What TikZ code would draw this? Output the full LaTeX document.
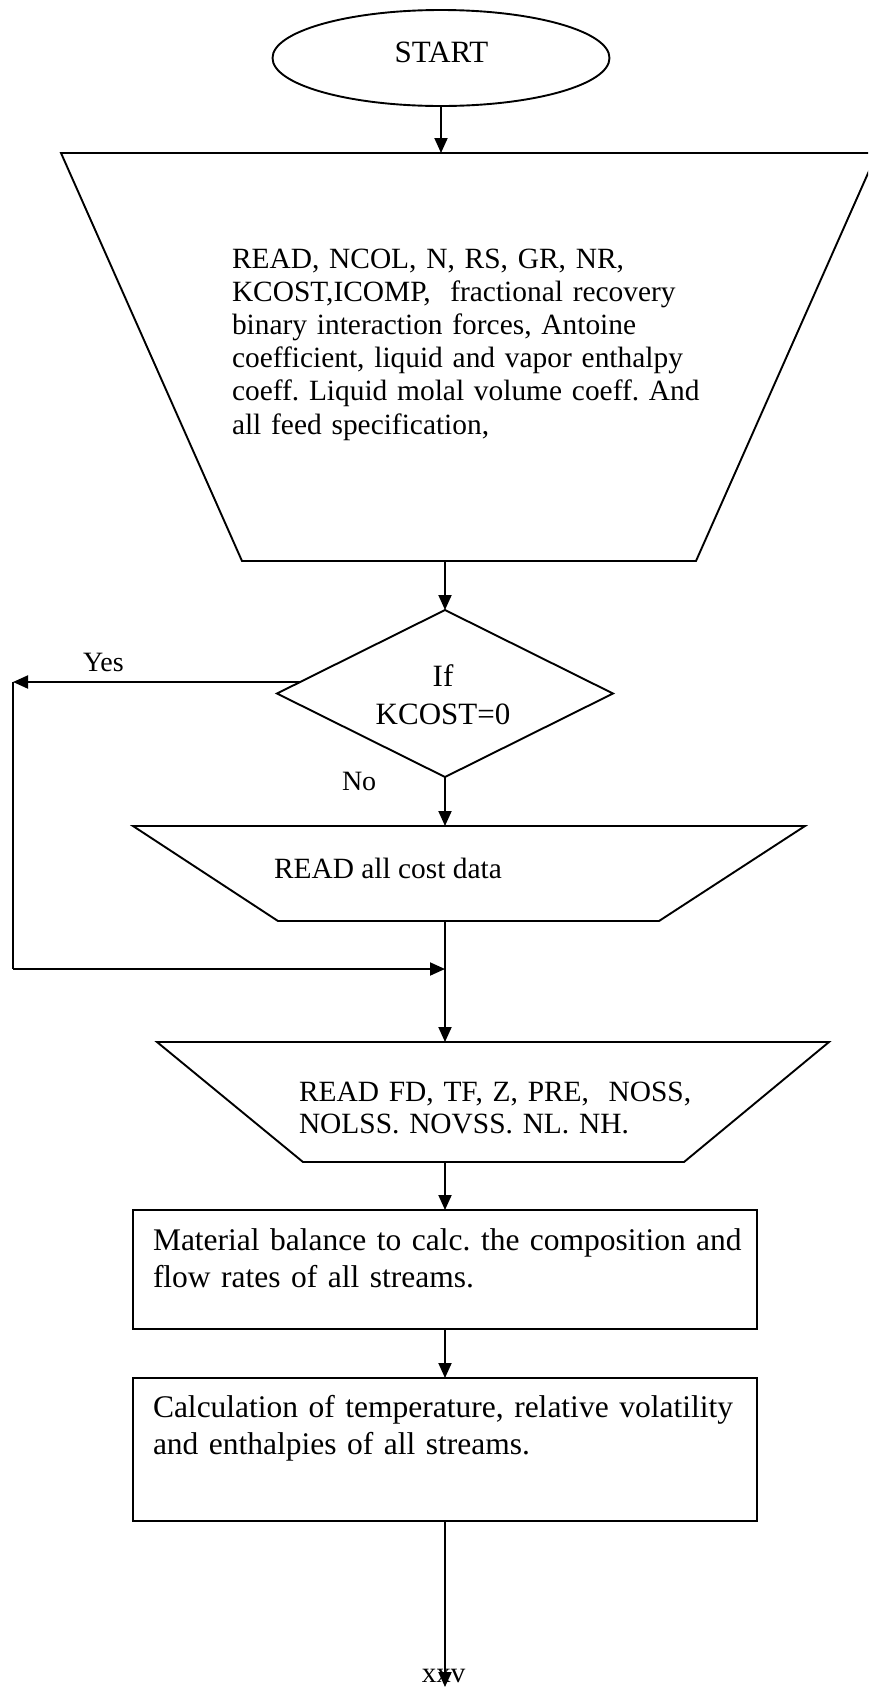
\documentclass[tikz,border=0pt]{standalone}
\usepackage{fontspec}
\setmainfont{Liberation Serif}
\usetikzlibrary{shapes.geometric,arrows.meta}
\frenchspacing
\tikzset{
  every node/.style={inner sep=0pt, outer sep=0pt},
  shp/.style={draw, line width=1.9pt, line join=miter},
  arr/.style={line width=1.9pt, -{Triangle[length=15pt,width=13pt]}},
  ln/.style={line width=1.9pt},
  txt/.style={anchor=base west, align=left, text width=#1},
  ctxt/.style={anchor=base, align=center, text width=#1},
  ftA/.style={font=\fontsize{29.4}{33.2}\selectfont},
  ftB/.style={font=\fontsize{31.5}{36.5}\selectfont},
  ftC/.style={font=\fontsize{31}{38}\selectfont},
  ftL/.style={font=\fontsize{28}{32}\selectfont},
}
\begin{document}
\begin{tikzpicture}[x=1pt,y=-1pt]
\useasboundingbox (0,0) rectangle (868,1687);
\clip (0,0) rectangle (868,1687);

% START
\node[shp, ellipse, minimum width=337, minimum height=96] (start) at (441,58) {};
\node[ftC, anchor=base] (starttxt) at (441.5,62) {START};

% big input trapezoid
\draw[shp] (61,153) -- (877,153) -- (696,561) -- (242,561) -- cycle;
\coordinate (t1n) at (441,153);
\coordinate (t1s) at (445,561);
\node[ftA, txt=560] (t1txt) at (232,268) {\frenchspacing READ, NCOL, N, RS, GR, NR,\\
KCOST,ICOMP,\ \ fractional recovery\\
binary interaction forces, Antoine\\
coefficient, liquid and vapor enthalpy\\
coeff. Liquid molal volume coeff. And\\
all feed specification,};

% decision
\node[shp, diamond, minimum width=336, minimum height=167] (dec) at (445,693.5) {};
\node[ftC, ctxt=250] (dectxt) at (443,686) {If\\KCOST=0};
\node[ftL, anchor=base west] (yes) at (83,671) {Yes};
\node[ftL, anchor=base west] (no) at (342,790) {No};
\coordinate (yesstart) at (300,682);
\coordinate (c1) at (13,682);
\coordinate (c2) at (13,969);
\coordinate (join) at (445,969);

% read cost data
\draw[shp] (133,826) -- (805,826) -- (659,921) -- (278,921) -- cycle;
\coordinate (t2n) at (445,826);
\coordinate (t2s) at (445,921);
\node[ftA, anchor=base west] (t2txt) at (274,878) {READ all cost data};

% read feed data
\draw[shp] (157,1042) -- (829,1042) -- (684,1162) -- (303,1162) -- cycle;
\coordinate (t3n) at (445,1042);
\coordinate (t3s) at (445,1162);
\node[ftA, txt=450, font=\fontsize{29.4}{32.5}\selectfont] (t3txt) at (299,1101) {\frenchspacing READ FD, TF, Z, PRE,\ \ NOSS,\\
NOLSS. NOVSS. NL. NH.};

% boxes
\node[shp, minimum width=624, minimum height=119] (b1) at (445,1269.5) {};
\node[ftB, txt=600] (b1txt) at (153,1250.5) {\frenchspacing Material balance to calc. the composition and\\
flow rates of all streams.};
\node[shp, minimum width=624, minimum height=143] (b2) at (445,1449.5) {};
\node[ftB, txt=600, font=\fontsize{31.5}{37}\selectfont] (b2txt) at (153,1417) {\frenchspacing Calculation of temperature, relative volatility\\
and enthalpies of all streams.};

% page label
\node[ftL, font=\fontsize{29}{32}\selectfont, anchor=base] (pg) at (443.5,1682) {xxv};
\coordinate (endpt) at (445,1687);

% connectors
\draw[arr] (start.south) -- (t1n);
\draw[arr] (t1s) -- (dec.north);
\draw[arr] (yesstart) -- (c1);
\draw[ln] (c1) -- (c2);
\draw[arr] (c2) -- (join);
\draw[arr] (dec.south) -- (t2n);
\draw[ln] (t2s) -- (join);
\draw[arr] (join) -- (t3n);
\draw[arr] (t3s) -- (b1.north);
\draw[arr] (b1.south) -- (b2.north);
\draw[arr] (b2.south) -- (endpt);
\end{tikzpicture}
\end{document}
